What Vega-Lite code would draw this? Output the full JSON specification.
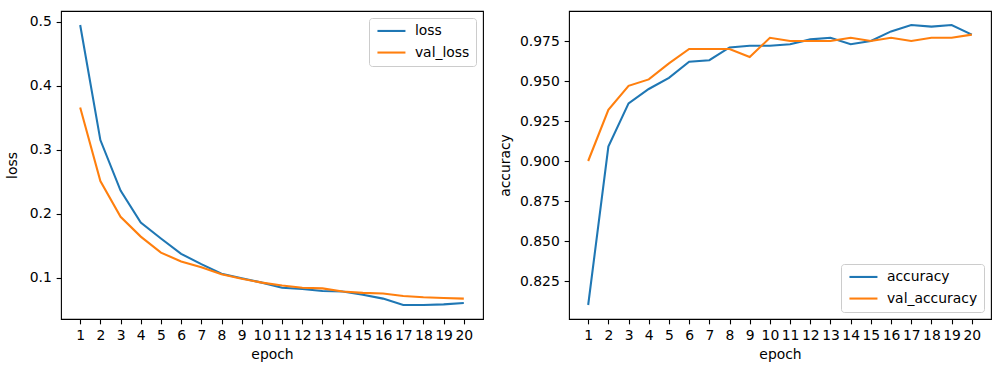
{
  "$schema": "https://vega.github.io/schema/vega-lite/v6.json",
  "background": "white",
  "padding": {"left": 5, "top": 10, "right": 10, "bottom": 5},
  "spacing": 14,
  "data": {
    "values": [
      {"epoch": 1, "loss": 0.495, "val_loss": 0.366, "accuracy": 0.810, "val_accuracy": 0.900},
      {"epoch": 2, "loss": 0.315, "val_loss": 0.251, "accuracy": 0.909, "val_accuracy": 0.932},
      {"epoch": 3, "loss": 0.236, "val_loss": 0.195, "accuracy": 0.936, "val_accuracy": 0.947},
      {"epoch": 4, "loss": 0.186, "val_loss": 0.164, "accuracy": 0.945, "val_accuracy": 0.951},
      {"epoch": 5, "loss": 0.161, "val_loss": 0.139, "accuracy": 0.952, "val_accuracy": 0.961},
      {"epoch": 6, "loss": 0.137, "val_loss": 0.125, "accuracy": 0.962, "val_accuracy": 0.970},
      {"epoch": 7, "loss": 0.121, "val_loss": 0.116, "accuracy": 0.963, "val_accuracy": 0.970},
      {"epoch": 8, "loss": 0.106, "val_loss": 0.105, "accuracy": 0.971, "val_accuracy": 0.970},
      {"epoch": 9, "loss": 0.099, "val_loss": 0.098, "accuracy": 0.972, "val_accuracy": 0.965},
      {"epoch": 10, "loss": 0.092, "val_loss": 0.092, "accuracy": 0.972, "val_accuracy": 0.977},
      {"epoch": 11, "loss": 0.084, "val_loss": 0.0875, "accuracy": 0.973, "val_accuracy": 0.975},
      {"epoch": 12, "loss": 0.082, "val_loss": 0.084, "accuracy": 0.976, "val_accuracy": 0.975},
      {"epoch": 13, "loss": 0.079, "val_loss": 0.083, "accuracy": 0.977, "val_accuracy": 0.975},
      {"epoch": 14, "loss": 0.078, "val_loss": 0.078, "accuracy": 0.973, "val_accuracy": 0.977},
      {"epoch": 15, "loss": 0.073, "val_loss": 0.076, "accuracy": 0.975, "val_accuracy": 0.975},
      {"epoch": 16, "loss": 0.067, "val_loss": 0.075, "accuracy": 0.981, "val_accuracy": 0.977},
      {"epoch": 17, "loss": 0.057, "val_loss": 0.071, "accuracy": 0.985, "val_accuracy": 0.975},
      {"epoch": 18, "loss": 0.057, "val_loss": 0.069, "accuracy": 0.984, "val_accuracy": 0.977},
      {"epoch": 19, "loss": 0.058, "val_loss": 0.068, "accuracy": 0.985, "val_accuracy": 0.977},
      {"epoch": 20, "loss": 0.060, "val_loss": 0.067, "accuracy": 0.979, "val_accuracy": 0.979}
    ]
  },
  "hconcat": [
    {
      "width": 422,
      "height": 308,
      "transform": [{"fold": ["loss", "val_loss"], "as": ["series", "value"]}],
      "mark": {"type": "line", "strokeWidth": 2.08},
      "encoding": {
        "x": {
          "field": "epoch", "type": "quantitative",
          "scale": {"domain": [0.05, 20.95], "nice": false, "zero": false},
          "axis": {"values": [1,2,3,4,5,6,7,8,9,10,11,12,13,14,15,16,17,18,19,20], "format": "d", "title": "epoch", "labelFlush": false, "labelOverlap": false, "titlePadding": 4.5}
        },
        "y": {
          "field": "value", "type": "quantitative",
          "scale": {"domain": [0.0351, 0.5169], "nice": false, "zero": false},
          "axis": {"values": [0.1, 0.2, 0.3, 0.4, 0.5], "format": ".1f", "title": "loss", "labelOverlap": false, "titlePadding": 9.6}
        },
        "color": {
          "field": "series", "type": "nominal",
          "scale": {"domain": ["loss", "val_loss"], "range": ["#1f77b4", "#ff7f0e"]},
          "legend": {"title": null, "orient": "top-right", "symbolType": "M-4,0L4,0", "symbolSize": 49, "symbolOffset": 9.5, "labelOffset": 16.5}
        }
      }
    },
    {
      "width": 422,
      "height": 308,
      "transform": [{"fold": ["accuracy", "val_accuracy"], "as": ["series", "value"]}],
      "mark": {"type": "line", "strokeWidth": 2.08},
      "encoding": {
        "x": {
          "field": "epoch", "type": "quantitative",
          "scale": {"domain": [0.05, 20.95], "nice": false, "zero": false},
          "axis": {"values": [1,2,3,4,5,6,7,8,9,10,11,12,13,14,15,16,17,18,19,20], "format": "d", "title": "epoch", "labelFlush": false, "labelOverlap": false, "titlePadding": 4.5}
        },
        "y": {
          "field": "value", "type": "quantitative",
          "scale": {"domain": [0.80125, 0.99375], "nice": false, "zero": false},
          "axis": {"values": [0.825, 0.85, 0.875, 0.9, 0.925, 0.95, 0.975], "format": ".3f", "title": "accuracy", "labelOverlap": false, "titlePadding": 6.6}
        },
        "color": {
          "field": "series", "type": "nominal",
          "scale": {"domain": ["accuracy", "val_accuracy"], "range": ["#1f77b4", "#ff7f0e"]},
          "legend": {"title": null, "orient": "bottom-right", "symbolType": "M-4,0L4,0", "symbolSize": 49, "symbolOffset": 9.5, "labelOffset": 16.5}
        }
      }
    }
  ],
  "resolve": {"scale": {"color": "independent"}, "legend": {"color": "independent"}},
  "config": {
    "font": "DejaVu Sans",
    "view": {"stroke": "black", "strokeWidth": 1.1},
    "axis": {
      "domain": false, "grid": false,
      "tickColor": "black", "tickSize": 4.86, "tickWidth": 1.1,
      "labelPadding": 4.86, "labelFontSize": 13.9, "labelColor": "black", "labelFont": "DejaVu Sans",
      "titleFontSize": 13.9, "titleFontWeight": "normal", "titleColor": "black", "titleFont": "DejaVu Sans"
    },
    "legend": {
      "fillColor": "white", "strokeColor": "#cccccc", "cornerRadius": 3, "padding": 6,
      "symbolStrokeWidth": 2.08,
      "labelFontSize": 13.9, "labelColor": "black", "labelFont": "DejaVu Sans",
      "offset": 7, "rowPadding": 6.6
    }
  }
}
